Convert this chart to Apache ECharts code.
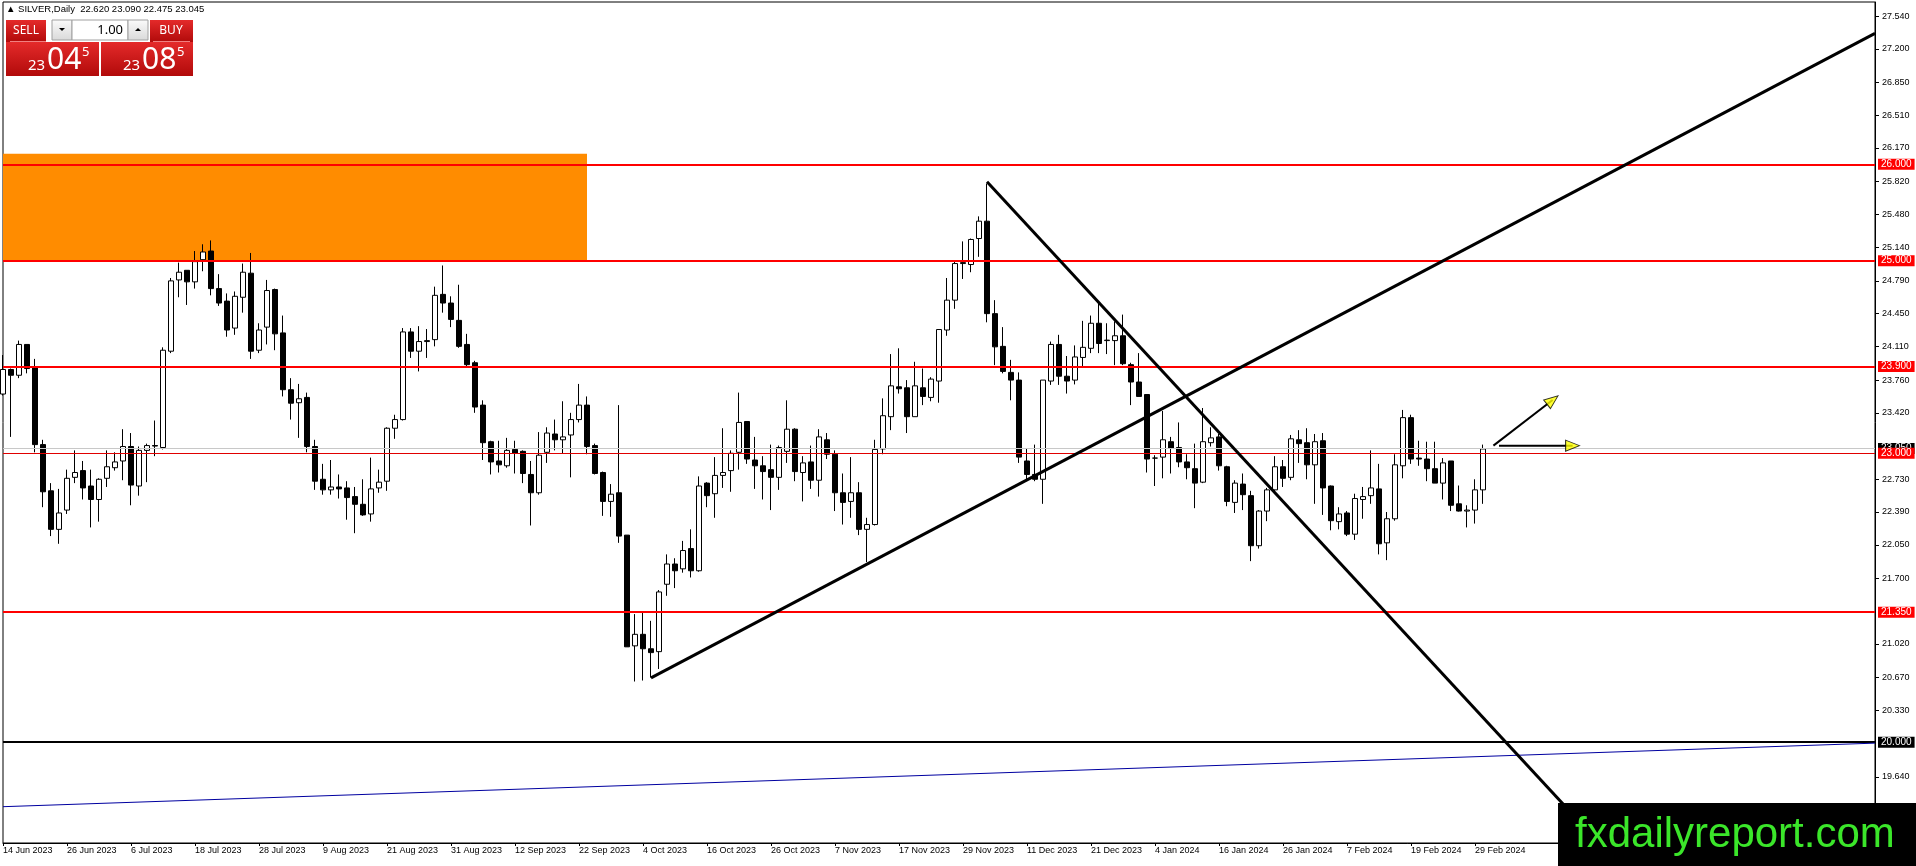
<!DOCTYPE html>
<html>
<head>
<meta charset="utf-8">
<script src="https://cdn.jsdelivr.net/npm/echarts@6/dist/echarts.min.js"></script>
<style>
  html, body { margin: 0; padding: 0; background: #fff; }
  #main { width: 1916px; height: 866px; }
</style>
</head>
<body>
<div id="main"></div>
<script>
// SILVER daily, MT4 style
var chartDom = document.getElementById('main');
var chart = echarts.init(chartDom);

// date labels, one every 8 bars starting at bar 0
var tickLabels = ['14 Jun 2023', '26 Jun 2023', '6 Jul 2023', '18 Jul 2023', '28 Jul 2023', '9 Aug 2023',
  '21 Aug 2023', '31 Aug 2023', '12 Sep 2023', '22 Sep 2023', '4 Oct 2023', '16 Oct 2023', '26 Oct 2023',
  '7 Nov 2023', '17 Nov 2023', '29 Nov 2023', '11 Dec 2023', '21 Dec 2023', '4 Jan 2024', '16 Jan 2024',
  '26 Jan 2024', '7 Feb 2024', '19 Feb 2024', '29 Feb 2024'];
var slotCount = 235; // bars + empty space on the right

// price scale labels on the right
var yTicks = [19.64, 20.33, 20.67, 21.02, 21.70, 22.05, 22.39, 22.73, 23.42, 23.76, 24.11, 24.45,
  24.79, 25.14, 25.48, 25.82, 26.17, 26.51, 26.85, 27.20, 27.54];

var opens = [23.615, 23.87, 23.81, 24.13, 23.90, 23.09, 22.61, 22.21, 22.41, 22.75,
  22.82, 22.66, 22.52, 22.74, 22.85, 22.92, 23.07, 22.66, 23.03, 23.08,
  23.06, 24.06, 24.80, 24.90, 24.78, 25.01, 25.10, 24.71, 24.58, 24.30,
  24.62, 24.87, 24.07, 24.31, 24.70, 24.25, 23.66, 23.525, 23.58, 23.07,
  22.73, 22.62, 22.65, 22.64, 22.55, 22.47, 22.37, 22.64, 22.71, 23.26,
  23.35, 24.26, 24.06, 24.16, 24.18, 24.65, 24.56, 24.38, 24.13, 23.94,
  23.50, 23.12, 22.92, 22.87, 23.04, 23.02, 22.78, 22.59, 23.01, 23.20,
  23.14, 23.19, 23.35, 23.50, 23.08, 22.80, 22.50, 22.59, 22.15, 21.00,
  21.12, 20.97, 20.94, 21.64, 21.85, 21.80, 22.01, 21.78, 22.69, 22.58,
  22.77, 22.82, 23.01, 23.33, 22.93, 22.87, 22.83, 22.75, 23.02, 23.25,
  22.80, 22.91, 22.72, 23.14, 22.99, 22.59, 22.50, 22.59, 22.21, 22.26,
  23.045, 23.38, 23.69, 23.68, 23.38, 23.68, 23.58, 23.75, 24.28, 24.59,
  24.97, 24.96, 25.23, 25.41, 24.45, 24.11, 23.84, 23.76, 22.92, 22.78,
  22.73, 23.75, 24.13, 23.80, 23.76, 23.995, 24.09, 24.35, 24.17, 24.17,
  24.22, 23.92, 23.74, 23.61, 22.95, 22.96, 23.12, 23.06, 22.91, 22.84,
  22.70, 23.11, 23.17, 22.86, 22.49, 22.68, 22.56, 22.04, 22.40, 22.62,
  22.86, 22.75, 23.14, 23.11, 22.88, 23.13, 22.66, 22.29, 22.38, 22.16,
  22.52, 22.56, 22.63, 22.07, 22.32, 22.87, 23.37, 22.95, 22.94, 22.84,
  22.69, 22.92, 22.475, 22.40, 22.41, 22.62];
var closes = [23.87, 23.81, 24.13, 23.88, 23.09, 22.60, 22.21, 22.38, 22.74, 22.80,
  22.64, 22.52, 22.73, 22.86, 22.91, 23.07, 22.67, 23.03, 23.08, 23.075,
  24.07, 24.79, 24.88, 24.78, 24.99, 25.09, 24.71, 24.56, 24.28, 24.63,
  24.88, 24.06, 24.28, 24.69, 24.24, 23.66, 23.52, 23.566, 23.07, 22.71,
  22.62, 22.65, 22.63, 22.54, 22.47, 22.36, 22.63, 22.70, 23.26, 23.35,
  24.26, 24.06, 24.16, 24.17, 24.64, 24.56, 24.39, 24.11, 23.92, 23.48,
  23.11, 22.91, 22.88, 23.03, 23.00, 22.79, 22.59, 22.98, 23.21, 23.14,
  23.17, 23.35, 23.50, 23.07, 22.79, 22.50, 22.575, 22.14, 20.99, 21.12,
  20.97, 20.93, 21.56, 21.85, 21.78, 21.99, 21.78, 22.66, 22.56, 22.77,
  22.80, 23.00, 23.32, 22.94, 22.87, 22.81, 22.75, 23.06, 23.25, 22.81,
  22.90, 22.72, 23.17, 22.99, 22.59, 22.49, 22.59, 22.21, 22.26, 23.04,
  23.39, 23.70, 23.67, 23.38, 23.70, 23.59, 23.77, 24.285, 24.59, 24.97,
  24.98, 25.22, 25.41, 24.45, 24.105, 23.85, 23.76, 22.96, 22.78, 22.73,
  23.76, 24.13, 23.80, 23.75, 24.00, 24.10, 24.35, 24.14, 24.175, 24.22,
  23.93, 23.74, 23.59, 22.94, 22.95, 23.14, 23.05, 22.91, 22.85, 22.69,
  23.12, 23.16, 22.87, 22.50, 22.69, 22.57, 22.04, 22.40, 22.62, 22.86,
  22.74, 23.15, 23.10, 22.88, 23.12, 22.64, 22.30, 22.37, 22.16, 22.53,
  22.55, 22.64, 22.06, 22.32, 22.88, 23.37, 22.94, 22.94, 22.84, 22.69,
  22.90, 22.46, 22.40, 22.41, 22.62, 23.045];
var lows = [23.60, 23.17, 23.78, 23.83, 23.01, 22.44, 22.14, 22.06, 22.37, 22.69,
  22.52, 22.23, 22.29, 22.65, 22.82, 22.72, 22.46, 22.56, 22.70, 22.97,
  23.04, 24.04, 24.62, 24.54, 24.71, 24.89, 24.64, 24.53, 24.21, 24.23,
  24.46, 23.98, 24.04, 24.13, 24.07, 23.59, 23.35, 23.16, 23.01, 22.62,
  22.57, 22.57, 22.53, 22.31, 22.17, 22.35, 22.29, 22.59, 22.61, 23.15,
  23.34, 23.99, 23.85, 23.99, 24.11, 24.46, 24.31, 24.095, 23.90, 23.42,
  22.93, 22.78, 22.80, 22.85, 22.79, 22.69, 22.25, 22.57, 22.90, 23.03,
  23.00, 22.75, 23.32, 22.99, 22.78, 22.35, 22.34, 22.07, 20.99, 20.63,
  20.64, 20.67, 20.76, 21.52, 21.60, 21.76, 21.71, 21.77, 22.44, 22.33,
  22.64, 22.60, 22.83, 22.89, 22.63, 22.52, 22.41, 22.62, 22.90, 22.71,
  22.50, 22.63, 22.55, 22.94, 22.40, 22.26, 22.33, 22.15, 21.87, 22.25,
  22.99, 23.24, 23.62, 23.21, 23.38, 23.50, 23.54, 23.525, 24.22, 24.50,
  24.81, 24.88, 25.04, 24.36, 23.915, 23.83, 23.55, 22.90, 22.72, 22.71,
  22.475, 23.71, 23.71, 23.62, 23.715, 23.905, 24.04, 24.04, 24.03, 23.915,
  23.915, 23.50, 23.59, 22.80, 22.66, 22.74, 22.79, 22.855, 22.73, 22.43,
  22.69, 23.07, 22.82, 22.45, 22.38, 22.41, 21.88, 22.01, 22.295, 22.60,
  22.65, 22.72, 22.90, 22.73, 22.475, 22.36, 22.20, 22.21, 22.14, 22.10,
  22.32, 22.475, 21.95, 21.89, 22.30, 22.74, 22.89, 22.87, 22.71, 22.69,
  22.52, 22.40, 22.395, 22.23, 22.27, 22.475];
var highs = [24.02, 23.88, 24.17, 24.13, 23.98, 23.14, 22.69, 22.63, 22.83, 23.03,
  22.92, 22.83, 22.74, 23.03, 23.01, 23.25, 23.21, 23.07, 23.10, 23.34,
  24.10, 24.82, 24.98, 24.90, 25.10, 25.17, 25.21, 24.86, 24.66, 24.68,
  24.97, 25.08, 24.35, 24.80, 24.71, 24.43, 23.78, 23.72, 23.63, 23.14,
  22.89, 22.93, 22.78, 22.71, 22.65, 22.73, 22.955, 22.83, 23.27, 23.40,
  24.30, 24.30, 24.32, 24.29, 24.73, 24.95, 24.63, 24.75, 24.24, 23.96,
  23.55, 23.13, 23.13, 23.16, 23.13, 23.03, 22.92, 23.22, 23.27, 23.35,
  23.54, 23.42, 23.72, 23.59, 23.10, 22.81, 22.68, 23.50, 22.15, 21.33,
  21.35, 21.26, 21.58, 21.95, 21.91, 22.09, 22.21, 22.76, 22.70, 22.96,
  23.26, 23.03, 23.63, 23.33, 23.17, 22.97, 23.09, 23.08, 23.55, 23.26,
  22.97, 23.08, 23.25, 23.21, 23.03, 22.79, 22.96, 22.70, 22.33, 23.14,
  23.57, 24.03, 24.09, 23.76, 23.95, 23.88, 23.79, 24.29, 24.82, 24.99,
  25.20, 25.23, 25.46, 25.80, 24.59, 24.31, 23.97, 23.84, 23.05, 23.09,
  23.76, 24.16, 24.23, 24.01, 24.12, 24.375, 24.43, 24.57, 24.35, 24.37,
  24.44, 23.94, 24.04, 23.61, 22.98, 23.44, 23.17, 23.32, 22.99, 23.10,
  23.47, 23.27, 23.20, 22.87, 22.72, 22.79, 22.61, 22.41, 22.64, 22.97,
  22.93, 23.19, 23.24, 23.26, 23.20, 23.21, 22.665, 22.44, 22.40, 22.58,
  22.65, 23.03, 22.89, 22.39, 22.99, 23.45, 23.40, 23.13, 23.12, 23.12,
  22.95, 22.92, 22.665, 22.46, 22.73, 23.09];

// horizontal levels
var redLevels = [26.0, 25.0, 23.9, 21.35];
var midLevel = 23.0;
var baseLevel = 20.0;
var bidPrice = 23.045;

// drawn objects, [bar index, price]
var supportZone = [[0, 26.11], [73, 25.0]];
var trendUp = [[81, 20.668], [234, 27.36]];
var trendDown = [[123, 25.82], [200, 18.91]];
var channelLine = [[0, 19.33], [234, 19.99]];
var arrowUp = [[186.3, 23.079], [193.7, 23.553]];
var arrowRight = [[187.0, 23.079], [196.2, 23.079]];

var xCats = [];
for (var i = 0; i < slotCount; i++) xCats.push(String(i));

var candleData = opens.map(function (o, i) {
  return [o, closes[i], lows[i], highs[i]];
});

var font = 'Liberation Sans, Arial, sans-serif';

function levelLine(v, color, width, labelBg) {
  return {
    yAxis: v,
    lineStyle: { color: color, width: width, type: 'solid' },
    label: {
      show: true,
      position: 'end',
      distance: 3,
      formatter: function (p) { return Number(p.value).toFixed(3); },
      color: '#fff',
      backgroundColor: labelBg,
      padding: [1, 3, 0, 3],
      fontFamily: font,
      fontSize: 10,
      lineHeight: 10
    }
  };
}

var levelData = [levelLine(bidPrice, '#c8c8c8', 1, '#000')];
redLevels.forEach(function (v) { levelData.push(levelLine(v, '#ff0000', 2, '#ff0000')); });
levelData.push(levelLine(midLevel, '#e00000', 1.2, '#ff0000'));
levelData.push(levelLine(baseLevel, '#000', 2, '#000'));

function straight(data, color, width) {
  return {
    type: 'line',
    xAxisIndex: 1,
    data: data,
    symbol: 'none',
    silent: true,
    z: 6,
    lineStyle: { color: color, width: width }
  };
}

function arrowHead(data, rot) {
  return {
    type: 'scatter',
    xAxisIndex: 1,
    data: [data[data.length - 1]],
    symbol: 'triangle',
    symbolSize: [11, 14],
    symbolRotate: rot,
    silent: true,
    z: 8,
    itemStyle: { color: '#ffff00', borderColor: '#000', borderWidth: 1 }
  };
}

var redGrad = new echarts.graphic.LinearGradient(0, 0, 0, 1, [
  { offset: 0, color: '#e42a2a' },
  { offset: 1, color: '#b10a0a' }
]);
var greyGrad = new echarts.graphic.LinearGradient(0, 0, 0, 1, [
  { offset: 0, color: '#fbfbfb' },
  { offset: 1, color: '#d9d9d9' }
]);

var option = {
  animation: false,
  backgroundColor: '#fff',
  grid: {
    left: 2, right: 41, top: 2, bottom: 23,
    show: true, borderColor: '#000', borderWidth: 1, backgroundColor: '#fff'
  },
  xAxis: [{
    type: 'category',
    data: xCats,
    boundaryGap: false,
    axisLine: { onZero: false, lineStyle: { color: '#000', width: 1 } },
    axisTick: {
      show: true, length: 3, lineStyle: { color: '#000' },
      interval: function (idx) { return idx % 8 === 0 && idx / 8 < tickLabels.length; }
    },
    axisLabel: {
      interval: function (idx) { return idx % 8 === 0 && idx / 8 < tickLabels.length; },
      formatter: function (v, idx) { return tickLabels[idx / 8] || ''; },
      align: 'left',
      margin: 3,
      color: '#000',
      fontFamily: font,
      fontSize: 9
    },
    splitLine: { show: false }
  }, {
    type: 'value',
    min: 0,
    max: slotCount - 1,
    show: false
  }],
  yAxis: {
    type: 'value',
    position: 'right',
    min: 18.953,
    max: 27.686,
    axisLine: { show: true, onZero: false, lineStyle: { color: '#000', width: 1 } },
    axisTick: { show: true, length: 4, customValues: yTicks, lineStyle: { color: '#000' } },
    axisLabel: {
      customValues: yTicks,
      formatter: function (v) { return v.toFixed(3); },
      color: '#000',
      fontFamily: font,
      fontSize: 9,
      margin: 7
    },
    splitLine: { show: false }
  },
  series: [
    {
      type: 'candlestick',
      data: candleData,
      barWidth: 5,
      z: 3,
      itemStyle: {
        color: '#fff',
        color0: '#000',
        borderColor: '#000',
        borderColor0: '#000',
        borderWidth: 1
      },
      markArea: {
        silent: true,
        itemStyle: { color: '#ff8c00', opacity: 1 },
        data: [[
          { xAxis: supportZone[0][0], yAxis: supportZone[0][1] },
          { xAxis: supportZone[1][0], yAxis: supportZone[1][1] }
        ]]
      },
      markLine: {
        silent: true,
        symbol: 'none',
        animation: false,
        data: levelData
      }
    },
    straight(channelLine, '#0000a0', 1),
    straight(trendUp, '#000', 3),
    straight(trendDown, '#000', 3),
    straight(arrowUp, '#000', 2),
    straight(arrowRight, '#000', 2),
    arrowHead(arrowUp, -52),
    arrowHead(arrowRight, -90)
  ],
  graphic: [
    // header line
    { type: 'text', left: 6, top: 4, style: { text: '\u25B2 SILVER,Daily  22.620 23.090 22.475 23.045', fill: '#000', font: '9.5px Liberation Sans' } },
    // one click trading panel
    { type: 'rect', shape: { x: 6, y: 20, width: 40, height: 22 }, style: { fill: redGrad } },
    { type: 'rect', shape: { x: 150, y: 20, width: 43, height: 22 }, style: { fill: redGrad } },
    { type: 'rect', shape: { x: 6, y: 42, width: 93, height: 34 }, style: { fill: redGrad } },
    { type: 'rect', shape: { x: 101, y: 42, width: 92, height: 34 }, style: { fill: redGrad } },
    { type: 'line', shape: { x1: 10, y1: 41.5, x2: 46, y2: 41.5 }, style: { stroke: '#f08080', lineWidth: 1 } },
    { type: 'line', shape: { x1: 153, y1: 41.5, x2: 190, y2: 41.5 }, style: { stroke: '#f08080', lineWidth: 1 } },
    { type: 'rect', shape: { x: 52, y: 20, width: 20, height: 20 }, style: { fill: greyGrad, stroke: '#a0a0a0', lineWidth: 1 } },
    { type: 'rect', shape: { x: 72, y: 20, width: 56, height: 20 }, style: { fill: '#fff', stroke: '#a0a0a0', lineWidth: 1 } },
    { type: 'rect', shape: { x: 128, y: 20, width: 20, height: 20 }, style: { fill: greyGrad, stroke: '#a0a0a0', lineWidth: 1 } },
    { type: 'polygon', shape: { points: [[59, 28], [65, 28], [62, 31]] }, style: { fill: '#000' } },
    { type: 'polygon', shape: { points: [[135, 31], [141, 31], [138, 28]] }, style: { fill: '#000' } },
    { type: 'text', x: 123, y: 30, style: { text: '1.00', fill: '#000', font: '13px Noto Sans', align: 'right', verticalAlign: 'middle' } },
    { type: 'text', x: 26, y: 31, style: { text: 'SELL', fill: '#fff', font: '12px Noto Sans', align: 'center', verticalAlign: 'middle' } },
    { type: 'text', x: 171, y: 31, style: { text: 'BUY', fill: '#fff', font: '12px Noto Sans', align: 'center', verticalAlign: 'middle' } },
    { type: 'text', x: 28, y: 66, style: { text: '23', fill: '#fff', font: '15px Noto Sans', verticalAlign: 'middle' } },
    { type: 'text', x: 47, y: 60, style: { text: '04', fill: '#fff', font: '30px Noto Sans', verticalAlign: 'middle' } },
    { type: 'text', x: 82, y: 52, style: { text: '5', fill: '#fff', font: '13px Noto Sans', verticalAlign: 'middle' } },
    { type: 'text', x: 123, y: 66, style: { text: '23', fill: '#fff', font: '15px Noto Sans', verticalAlign: 'middle' } },
    { type: 'text', x: 142, y: 60, style: { text: '08', fill: '#fff', font: '30px Noto Sans', verticalAlign: 'middle' } },
    { type: 'text', x: 177, y: 52, style: { text: '5', fill: '#fff', font: '13px Noto Sans', verticalAlign: 'middle' } },
    // watermark
    { type: 'rect', z: 100, shape: { x: 1558, y: 803, width: 358, height: 63 }, style: { fill: '#000' } },
    { type: 'text', z: 101, x: 1575, y: 835, style: { text: 'fxdailyreport.com', fill: '#3be62a', font: '42px Liberation Sans', verticalAlign: 'middle' } }
  ]
};

chart.setOption(option);
</script>
</body>
</html>
